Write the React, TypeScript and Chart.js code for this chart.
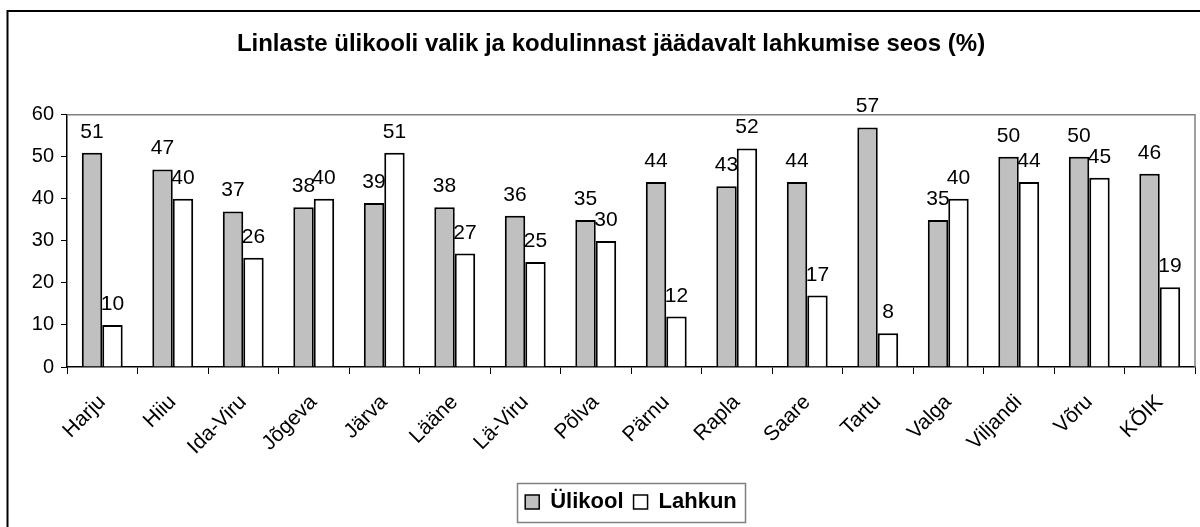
import { useEffect, useRef } from "react";
import { Chart, registerables } from "chart.js";

Chart.register(...registerables);

const TITLE = "Linlaste ülikooli valik ja kodulinnast jäädavalt lahkumise seos (%)";
const categories = [
  "Harju", "Hiiu", "Ida-Viru", "Jõgeva", "Järva", "Lääne", "Lä-Viru", "Põlva",
  "Pärnu", "Rapla", "Saare", "Tartu", "Valga", "Viljandi", "Võru", "KÕIK",
];
const ylikool = [51, 47, 37, 38, 39, 38, 36, 35, 44, 43, 44, 57, 35, 50, 50, 46];
const lahkun = [10, 40, 26, 40, 51, 27, 25, 30, 12, 52, 17, 8, 40, 44, 45, 19];
const seriesNames = ["Ülikool", "Lahkun"];
const yTicks = { min: 0, max: 60, step: 10 };

const FONT = "'Liberation Sans', Arial, sans-serif";

const decorPlugin = {
  id: "decor",
  beforeDraw(chart: any) {
    const ctx = chart.ctx;
    ctx.save();
    ctx.fillStyle = "#ffffff";
    ctx.fillRect(0, 0, chart.width, chart.height);
    ctx.restore();
  },
  afterDatasetsDraw(chart: any) {
    const ctx = chart.ctx;
    ctx.save();
    ctx.font = `21px ${FONT}`;
    ctx.fillStyle = "#000";
    ctx.textAlign = "center";
    ctx.textBaseline = "alphabetic";
    chart.data.datasets.forEach((ds: any, i: number) => {
      const meta = chart.getDatasetMeta(i);
      meta.data.forEach((bar: any, j: number) => {
        ctx.fillText(String(ds.data[j]), bar.x, bar.y - 15);
      });
    });
    ctx.restore();
  },
  afterDraw(chart: any) {
    const ctx = chart.ctx;
    const a = chart.chartArea;
    ctx.save();
    ctx.strokeStyle = "#808080";
    ctx.lineWidth = 1.5;
    ctx.beginPath();
    ctx.moveTo(a.left, a.top);
    ctx.lineTo(a.right, a.top);
    ctx.lineTo(a.right, a.bottom);
    ctx.stroke();
    ctx.strokeStyle = "#000";
    ctx.lineWidth = 2;
    ctx.beginPath();
    ctx.moveTo(7.5, chart.height);
    ctx.lineTo(7.5, 11);
    ctx.lineTo(chart.width, 11);
    ctx.stroke();
    const lg = chart.legend;
    if (lg && lg.legendHitBoxes && lg.legendHitBoxes.length) {
      let l = Infinity, r = -Infinity;
      lg.legendHitBoxes.forEach((hb: any) => {
        l = Math.min(l, hb.left);
        r = Math.max(r, hb.left + hb.width);
      });
      const cy = lg.top + 10 + 11;
      ctx.strokeStyle = "#808080";
      ctx.lineWidth = 1.5;
      ctx.strokeRect(Math.round(l - 8) + 0.5, Math.round(cy - 19.5) + 0.5, Math.round(r - l + 16), 39);
    }
    ctx.restore();
  },
};

export default function App() {
  const ref = useRef<HTMLCanvasElement>(null);
  useEffect(() => {
    const defaultGen = (Chart.defaults.plugins.legend.labels as any).generateLabels;
    const chart = new Chart(ref.current!, {
      type: "bar",
      data: {
        labels: categories,
        datasets: [
          {
            label: seriesNames[0],
            data: ylikool,
            backgroundColor: "#C0C0C0",
            borderColor: "#000000",
            borderWidth: 2,
            categoryPercentage: 0.58,
            barPercentage: 1,
          },
          {
            label: seriesNames[1],
            data: lahkun,
            backgroundColor: "#FFFFFF",
            borderColor: "#000000",
            borderWidth: 2,
            categoryPercentage: 0.58,
            barPercentage: 1,
          },
        ],
      },
      options: {
        responsive: false,
        animation: false,
        devicePixelRatio: 1,
        layout: { padding: { left: 27, right: 5, top: 0, bottom: 4 } },
        plugins: {
          title: {
            display: true,
            text: TITLE,
            color: "#000",
            font: { family: FONT, size: 24, weight: "bold" },
            padding: { top: 30, bottom: 56 },
          },
          legend: {
            display: true,
            position: "bottom",
            fullSize: false,
            labels: {
              color: "#000",
              font: { family: FONT, size: 22, weight: "bold" },
              boxWidth: 14,
              boxHeight: 14,
              padding: 10,
              generateLabels(c: any) {
                const items = defaultGen(c);
                items.forEach((it: any) => (it.lineWidth = 1.5));
                return items;
              },
            },
          },
          tooltip: { enabled: false },
        },
        scales: {
          x: {
            type: "category",
            offset: true,
            grid: {
              offset: true,
              drawOnChartArea: false,
              drawTicks: true,
              tickLength: 7,
              color: "#000",
            },
            border: { display: true, color: "#000", width: 1.5 },
            ticks: {
              color: "#000",
              font: { family: FONT, size: 21 },
              maxRotation: 45,
              minRotation: 45,
              padding: 16,
              autoSkip: false,
            },
            afterFit(scale: any) {
              scale.height = 114;
            },
          },
          y: {
            min: yTicks.min,
            max: yTicks.max,
            grid: {
              drawOnChartArea: false,
              drawTicks: true,
              tickLength: 6,
              color: "#000",
            },
            border: { display: true, color: "#000", width: 1.5 },
            ticks: {
              stepSize: yTicks.step,
              color: "#000",
              font: { family: FONT, size: 20 },
              padding: 7,
            },
            afterFit(scale: any) {
              scale.width = 40;
            },
          },
        },
      },
      plugins: [decorPlugin],
    } as any);
    return () => chart.destroy();
  }, []);
  return (
    <div style={{ position: "fixed", left: 0, top: 0, width: 1200, height: 527, background: "#fff" }}>
      <canvas ref={ref} width={1200} height={527} style={{ display: "block", width: 1200, height: 527 }} />
    </div>
  );
}
